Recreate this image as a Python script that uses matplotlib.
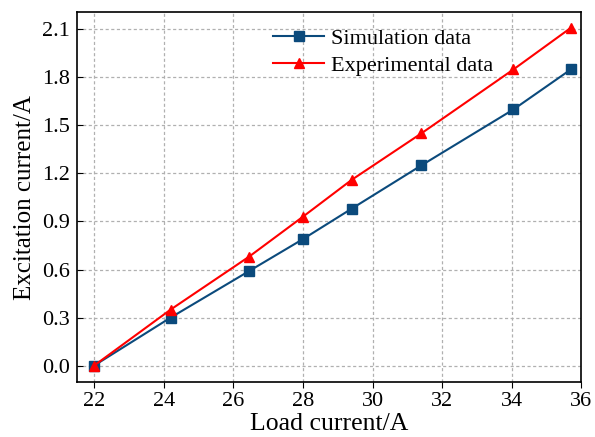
import matplotlib
matplotlib.use("Agg")
import matplotlib.pyplot as plt

load_current = [22, 24.2, 26.45, 28, 29.4, 31.4, 34.05, 35.7]
sim_excitation = [0.0, 0.30, 0.59, 0.79, 0.98, 1.25, 1.60, 1.85]
exp_excitation = [0.0, 0.35, 0.68, 0.93, 1.16, 1.45, 1.85, 2.11]

x_ticks = [22, 24, 26, 28, 30, 32, 34, 36]
y_ticks = [0.0, 0.3, 0.6, 0.9, 1.2, 1.5, 1.8, 2.1]

plt.rcParams['font.family'] = ['Liberation Serif', 'DejaVu Serif']
plt.rcParams['mathtext.fontset'] = 'stix'

fig = plt.figure(figsize=(5.95, 4.37), dpi=100)
ax = fig.add_axes([0.129, 0.125, 0.848, 0.848])

ax.plot(load_current, sim_excitation, color='#0b4a7c', marker='s', markersize=6.5,
        linewidth=1.5, label='Simulation data')
ax.plot(load_current, exp_excitation, color='#ff0000', marker='^', markersize=7.5,
        linewidth=1.5, label='Experimental data')

ax.set_xlim(21.5, 36)
ax.set_ylim(-0.105, 2.21)
ax.set_xticks(x_ticks)
ax.set_yticks(y_ticks)
ax.set_yticklabels([f"{v:.1f}" for v in y_ticks])
ax.tick_params(axis='x', direction='out', labelsize=16, length=4, pad=3)
ax.tick_params(axis='y', direction='in', labelsize=16, length=4, pad=5)

ax.grid(True, color='#b0b0b0', linestyle=(0, (2.5, 2)), linewidth=0.9)
for s in ax.spines.values():
    s.set_linewidth(1.2)

ax.set_xlabel("Load current/A", fontsize=18.5, labelpad=1.5)
ax.set_ylabel("Excitation current/A", fontsize=18, labelpad=4)

ax.legend(loc='upper center', bbox_to_anchor=(0.607, 0.995), frameon=False, fontsize=16,
          handlelength=2.3, labelspacing=0.3, borderaxespad=0.25, handletextpad=0.3)

fig.savefig("out.png", dpi=100)
